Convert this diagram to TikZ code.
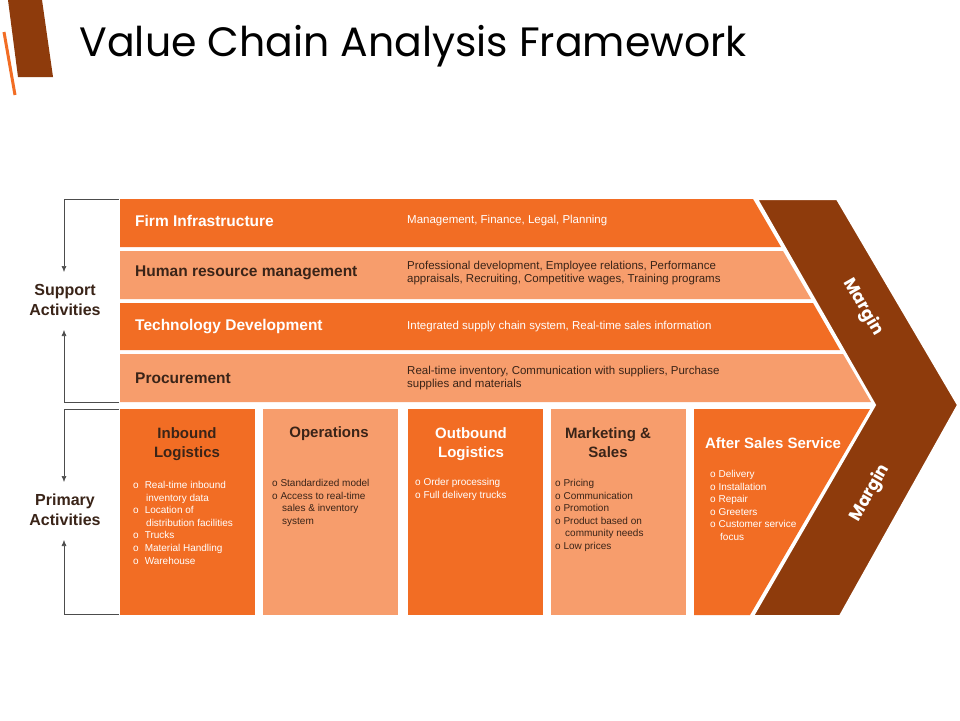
\documentclass[tikz,border=0pt]{standalone}
\usepackage{fontspec}
\setmainfont{Liberation Sans}
\newfontfamily\ttl{Poppins}
\usetikzlibrary{arrows.meta}
\definecolor{dk}{HTML}{F26D24}
\definecolor{lt}{HTML}{F79D6C}
\definecolor{br}{HTML}{8E3B0C}
\definecolor{tx}{HTML}{3A2418}
\begin{document}
\begin{tikzpicture}[x=1pt,y=-1pt,
 rowt/.style={anchor=west,inner sep=1pt,font=\fontsize{15.5}{17}\selectfont\bfseries},
 rowd/.style={anchor=west,inner sep=1pt,align=left,font=\fontsize{11.5}{13.5}\selectfont},
 bt/.style={anchor=north,inner sep=1pt,align=center,font=\fontsize{15}{19}\selectfont\bfseries},
 bl/.style={anchor=north west,inner sep=1pt,align=left,font=\fontsize{10}{12.6}\selectfont},
 mg/.style={inner sep=0pt,font=\ttl\fontsize{17}{20}\selectfont\bfseries,text=white},
 lab/.style={align=center,font=\fontsize{16}{20}\selectfont\bfseries,text=tx},
 brk/.style={draw=black!70,line width=0.6pt},
 arr/.style={brk,-{Latex[length=6pt,width=5pt]}}]
\useasboundingbox (0,0) rectangle (960,720);
\fill[white] (0,0) rectangle (960,720);
% decoration
\fill[br] (8,0)--(42,0)--(53,77)--(18,77)--cycle;
\draw[dk,line width=3pt] (4,32)--(15,95);
\node[anchor=west,font=\ttl\fontsize{41}{44}\selectfont] (title) at (76,46) {Value Chain Analysis Framework};
% support rows
\fill[dk] (120,199)--(753,199)--(781,247)--(120,247)--cycle;
\fill[lt] (120,251)--(783,251)--(811,299)--(120,299)--cycle;
\fill[dk] (120,303)--(813,303)--(840,350)--(120,350)--cycle;
\fill[lt] (120,354)--(843,354)--(871,402)--(120,402)--cycle;
\node[rowt,text=white] (r1) at (134,221) {Firm Infrastructure};
\node[rowt,text=tx] (r2) at (134,273) {Human resource management};
\node[rowt,text=white] (r3) at (134,327) {Technology Development};
\node[rowt,text=tx] (r4) at (134,378) {Procurement};
\node[rowd,text=white] (d1) at (406,221) {Management, Finance, Legal, Planning};
\node[rowd,text=tx] (d2) at (406,273) {Professional development, Employee relations, Performance\\appraisals, Recruiting, Competitive wages, Training programs};
\node[rowd,text=white] (d3) at (406,327) {Integrated supply chain system, Real-time sales information};
\node[rowd,text=tx] (d4) at (406,378) {Real-time inventory, Communication with suppliers, Purchase\\supplies and materials};
% primary boxes
\fill[dk] (120,409) rectangle (255,615);
\fill[lt] (263,409) rectangle (398,615);
\fill[dk] (408,409) rectangle (543,615);
\fill[lt] (551,409) rectangle (686,615);
\fill[dk] (694,409)--(870,409)--(750,615)--(694,615)--cycle;
\node[bt,text=tx] (p1) at (187,426) {Inbound\\Logistics};
\node[bt,text=tx] (p2) at (329,425) {Operations};
\node[bt,text=white] (p3) at (471,426) {Outbound\\Logistics};
\node[bt,text=tx] (p4) at (608,426) {Marketing \&\\Sales};
\node[bt,text=white] (p5) at (773,436) {After Sales Service};
\node[bl,text=white] (b1) at (132,480) {o\hspace{6pt}Real-time inbound\\\hspace{13pt}inventory data\\o\hspace{6pt}Location of\\\hspace{13pt}distribution facilities\\o\hspace{6pt}Trucks\\o\hspace{6pt}Material Handling\\o\hspace{6pt}Warehouse};
\node[bl,text=tx] (b2) at (271,478) {o Standardized model\\o Access to real-time\\\hspace{10pt}sales \& inventory\\\hspace{10pt}system};
\node[bl,text=white] (b3) at (414,477) {o Order processing\\o Full delivery trucks};
\node[bl,text=tx] (b4) at (554,478) {o Pricing\\o Communication\\o Promotion\\o Product based on\\\hspace{10pt}community needs\\o Low prices};
\node[bl,text=white] (b5) at (709,469) {o Delivery\\o Installation\\o Repair\\o Greeters\\o Customer service\\\hspace{10pt}focus};
% chevron
\fill[br,draw=white,line width=2pt] (757,199)--(837,199)--(958,405)--(840,616)--(753,616)--(875,405)--cycle;
\node[mg,rotate=-60] (m1) at (863,307) {Margin};
\node[mg,rotate=60] (m2) at (870,493) {Margin};
% brackets
\node[lab] (sa) at (65,300) {Support\\Activities};
\node[lab] (pa) at (65,510) {Primary\\Activities};
\coordinate (s1) at (119,199); \coordinate (s2) at (64,199);
\coordinate (s3) at (119,402); \coordinate (s4) at (64,402);
\draw[brk] (s1)--(s2); \draw[arr] (s2)--(64,272);
\draw[brk] (s3)--(s4); \draw[arr] (s4)--(64,330);
\coordinate (q1) at (119,409); \coordinate (q2) at (64,409);
\coordinate (q3) at (119,614); \coordinate (q4) at (64,614);
\draw[brk] (q1)--(q2); \draw[arr] (q2)--(64,482);
\draw[brk] (q3)--(q4); \draw[arr] (q4)--(64,540);
\end{tikzpicture}
\end{document}
